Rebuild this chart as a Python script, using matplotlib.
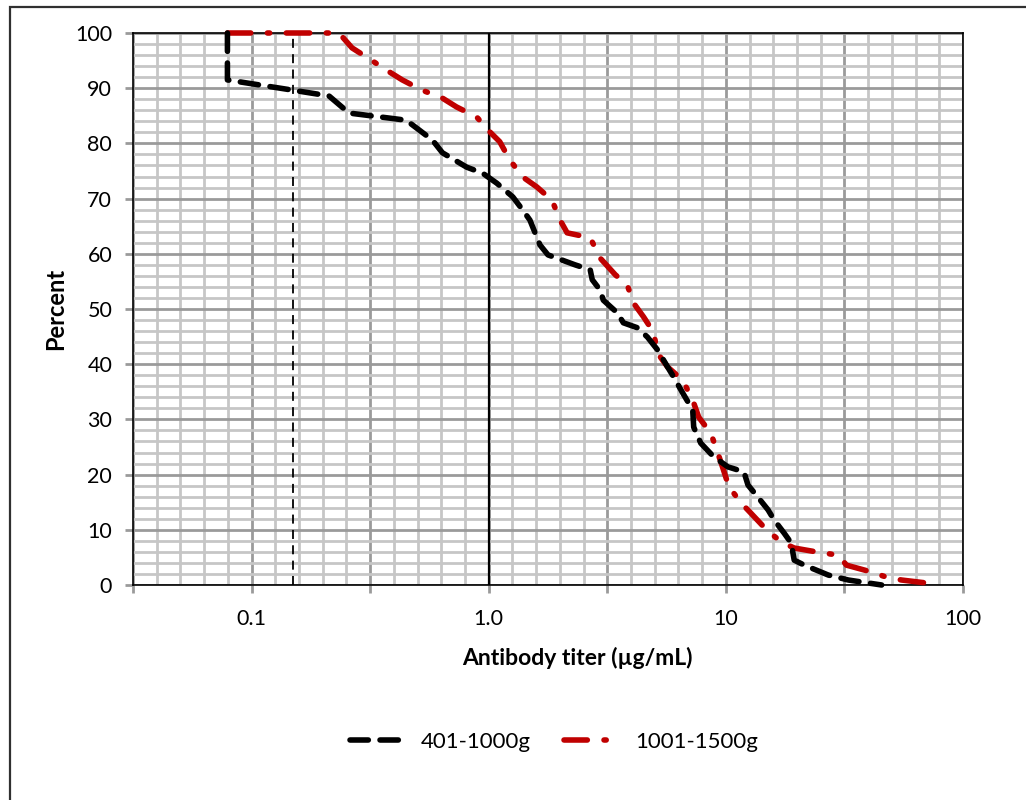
import matplotlib
matplotlib.use('Agg')
import numpy as np
import matplotlib.pyplot as plt
from matplotlib.lines import Line2D
from matplotlib.patches import Rectangle
from matplotlib.ticker import FixedLocator, NullFormatter

plt.rcParams['font.family'] = ['Lato', 'DejaVu Sans']

# ---------------------------------------------------------------------------
# Data: reverse cumulative percent vs titer
# ---------------------------------------------------------------------------
titer_401_1000 = [0.0791, 0.0791, 0.1463, 0.212, 0.2576, 0.449, 0.510, 0.579,
                  0.638, 0.807, 0.943, 1.081, 1.264, 1.393, 1.492, 1.645,
                  1.778, 2.313, 2.679, 2.733, 2.953, 3.042, 3.486, 3.697,
                  4.238, 4.672, 5.151, 5.679, 6.021, 6.574, 7.248, 7.318,
                  7.838, 8.897, 10.20, 11.92, 12.40, 13.66, 15.07, 15.97,
                  17.61, 18.86, 19.42, 21.41, 27.05, 32.88, 45.39]
pct_401_1000 = [100, 91.5, 89.7, 88.6, 85.5, 84.2, 82.4, 80.6,
                78.3, 75.7, 74.6, 72.8, 70.3, 67.9, 66.1, 61.6,
                59.8, 58.0, 57.1, 55.3, 53.4, 51.6, 49.3, 47.5,
                46.6, 44.9, 42.6, 39.5, 37.7, 34.8, 31.7, 28.6,
                25.7, 23.2, 21.4, 20.5, 18.1, 15.9, 13.6, 11.8,
                9.4, 7.6, 4.5, 3.6, 1.8, 0.9, 0]

titer_1001_1500 = [0.0791, 0.2336, 0.2653, 0.3192, 0.3696, 0.432, 0.520,
                   0.638, 0.732, 0.889, 1.010, 1.113, 1.227, 1.393, 1.597,
                   1.849, 2.000, 2.141, 2.679, 2.953, 3.419, 3.843, 4.076,
                   4.492, 4.954, 5.151, 5.679, 6.574, 7.248, 7.684, 8.639,
                   9.250, 9.712, 10.30, 11.58, 12.76, 14.77, 17.10, 19.42,
                   24.06, 29.83, 32.25, 39.97, 48.58, 55.14, 69.02]
pct_1001_1500 = [100, 100, 97.3, 95.1, 93.3, 91.5, 89.7,
                 88.2, 86.6, 84.8, 82.1, 80.3, 77.0, 73.9, 72.1,
                 69.7, 66.1, 63.8, 62.9, 59.2, 56.2, 54.3, 51.1,
                 48.6, 45.8, 42.0, 39.5, 37.1, 33.5, 30.4, 27.5,
                 23.9, 21.2, 17.8, 14.9, 13.0, 10.1, 7.8, 6.7,
                 6.0, 5.4, 3.6, 2.5, 1.3, 0.9, 0.4]

series_names = ['401-1000g', '1001-1500g']
cutoff_titer = 0.15
ref_titer = 1.0
x_labels = {0.1: '0.1', 1.0: '1.0', 10.0: '10', 100.0: '100'}

###############################################################################
# Style
###############################################################################
BLACK_DASH = (3.3, 2.1)
RED_DASHDOT = (4.2, 3.0, 0.4, 3.0)
LW = 4.0
RED = '#c00000'
GRID_MAJOR = '#9a9a9a'
GRID_MINOR = '#c6c6c6'

fig = plt.figure(figsize=(10.26, 8), dpi=100)
ax = fig.add_axes([133 / 1026, 1 - 585 / 800, 830 / 1026, 552 / 800])

ax.set_xscale('log')
ax.set_xlim(10 ** -1.5, 100)
ax.set_ylim(0, 100)

# grid: evenly log-spaced (10 per decade), darker every half decade
x_major = [10 ** (k / 2) for k in range(-3, 5)]
x_minor = [10 ** (k / 10) for k in range(-15, 21)]
ax.xaxis.set_major_locator(FixedLocator(x_major))
ax.xaxis.set_minor_locator(FixedLocator(x_minor))
ax.xaxis.set_minor_formatter(NullFormatter())
ax.set_xticklabels([x_labels.get(round(v, 6), '') for v in x_major])

ax.yaxis.set_major_locator(FixedLocator(range(0, 101, 10)))
ax.yaxis.set_minor_locator(FixedLocator(range(0, 101, 2)))

ax.grid(which='minor', color=GRID_MINOR, lw=2.0, zorder=0)
ax.grid(which='major', color=GRID_MAJOR, lw=2.0, zorder=0)
ax.set_axisbelow(True)

ax.tick_params(which='major', direction='out', length=6, width=2,
               color=GRID_MAJOR, labelsize=15.5, pad=9)
ax.tick_params(axis='x', which='major', pad=11)
ax.tick_params(which='minor', length=0)
for s in ax.spines.values():
    s.set_color('black')
    s.set_linewidth(1.2)

# reference lines
ax.axvline(ref_titer, color='black', lw=1.6, zorder=2)
ax.axvline(cutoff_titer, color='black', lw=1.3, ls=(0, (5, 3.5)), zorder=2)

l1, = ax.plot(titer_401_1000, pct_401_1000, color='black', lw=LW, zorder=4,
              clip_on=False)
l1.set_dashes(BLACK_DASH)
l2, = ax.plot(titer_1001_1500, pct_1001_1500, color=RED, lw=LW,
              zorder=3, clip_on=False)
l2.set_dashes(RED_DASHDOT)
for ln in (l1, l2):
    ln.set_dash_capstyle('round')
    ln.set_solid_capstyle('round')
    ln.set_dash_joinstyle('round')

ax.set_ylabel('Percent', fontsize=17, fontweight='bold')
ax.yaxis.set_label_coords(-66 / 830, 0.5)
fig.text(577 / 1026, 1 - 658 / 800, 'Antibody titer (\u00b5g/mL)',
         fontsize=16.5, fontweight='bold', ha='center', va='center')

# legend
h1 = Line2D([], [], color='black', lw=LW, dashes=BLACK_DASH,
            dash_capstyle='round')
h2 = Line2D([], [], color=RED, lw=LW, dashes=RED_DASHDOT,
            dash_capstyle='round')
fig.legend([h1, h2], series_names, loc='center', ncol=2, frameon=False,
           bbox_to_anchor=(554 / 1026, 1 - 742 / 800), fontsize=16,
           handlelength=2.6, columnspacing=1.5, handletextpad=0.6)

# figure border (cut off at right/bottom as in the original)
fig.patches.append(Rectangle((10 / 1026, -0.05), 1.2, 1.05 - 7 / 800,
                             transform=fig.transFigure, fill=False,
                             ec='#303030', lw=1.6))

fig.savefig('out.png', dpi=100)
